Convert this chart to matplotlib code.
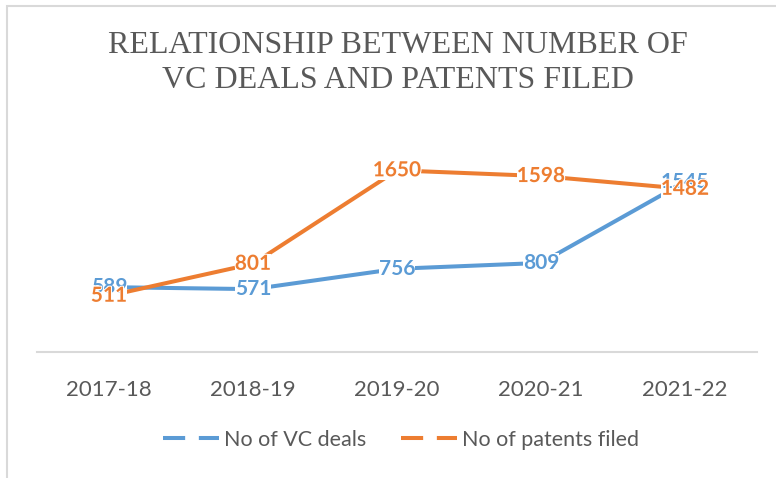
import matplotlib
matplotlib.use("Agg")
import matplotlib.pyplot as plt
import matplotlib.patheffects as pe
from matplotlib.lines import Line2D
from matplotlib.patches import Rectangle

categories = ["2017-18", "2018-19", "2019-20", "2020-21", "2021-22"]
vc_deals = [589, 571, 756, 809, 1545]
patents = [511, 801, 1650, 1598, 1482]
series_names = ["No of VC deals", "No of patents filed"]
title = "RELATIONSHIP BETWEEN NUMBER OF\nVC DEALS AND PATENTS FILED"

BLUE = "#5B9BD5"
ORANGE = "#ED7D31"
GRAY = "#595959"
W, H = 776, 478

fig = plt.figure(figsize=(W / 100, H / 100), dpi=100)
fig.patches.append(Rectangle((7 / W, 0 - 0.02), 1.05, 1 - 6 / H + 0.02, transform=fig.transFigure,
                             fill=False, edgecolor="#D9D9D9", linewidth=1.5, zorder=0))

left, right = 37 / W, 757 / W
bottom, top = 1 - 352 / H, 1 - 134 / H
ax = fig.add_axes([left, bottom, right - left, top - bottom])
x = list(range(len(categories)))
ax.set_xlim(-0.5, len(categories) - 0.5)
ax.set_ylim(0, 1980)

lw = 2.9
ax.plot(x, vc_deals, color=BLUE, lw=lw, solid_capstyle="butt", zorder=2, clip_on=False)
ax.plot(x, patents, color=ORANGE, lw=lw, solid_capstyle="butt", zorder=3, clip_on=False)

label_kw = dict(fontsize=15, fontweight="bold", family="Lato", ha="center", va="center")
# white backgrounds that break the lines behind each label
for ys in (vc_deals, patents):
    for xi, yi in zip(x, ys):
        ax.text(xi, yi, f"{yi}", color="none", zorder=4,
                bbox=dict(boxstyle="square,pad=0.0", fc="white", ec="none"), **label_kw)
for xi, yi in zip(x, vc_deals):
    ax.text(xi, yi, f"{yi}", color=BLUE, zorder=5, **label_kw)
for xi, yi in zip(x, patents):
    ax.text(xi, yi, f"{yi}", color=ORANGE, zorder=6,
            path_effects=[pe.withStroke(linewidth=1.5, foreground="white")], **label_kw)

for s in ["top", "right", "left"]:
    ax.spines[s].set_visible(False)
ax.spines["bottom"].set_color("#D9D9D9")
ax.spines["bottom"].set_linewidth(1.5)
ax.set_yticks([])
ax.set_xticks(x)
ax.set_xticklabels(categories, fontsize=16, family="Lato", color=GRAY)
ax.tick_params(axis="x", length=0, pad=20)

fig.text(0.5 + 10 / W, 1 - 63 / H, title, ha="center", va="center", family="Liberation Serif",
         fontsize=23, color=GRAY, linespacing=1.3)

handles = [Line2D([0], [0], color=BLUE, lw=lw, dashes=(5.5, 3.4)),
           Line2D([0], [0], color=ORANGE, lw=lw, dashes=(5.5, 3.4))]
fig.legend(handles, series_names, loc="center", bbox_to_anchor=(401 / W, 1 - 440 / H),
           ncol=2, frameon=False, prop={"family": "Lato", "size": 15.5},
           labelcolor=GRAY, handlelength=2.6, handletextpad=0.25, columnspacing=1.6)

fig.savefig("out.png", dpi=100)
